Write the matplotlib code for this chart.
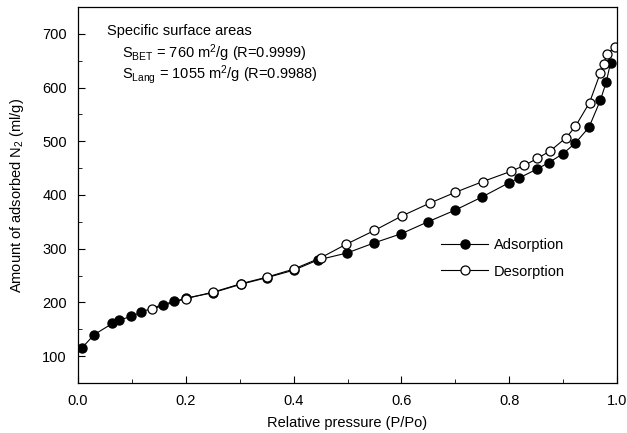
import matplotlib
matplotlib.use("Agg")
import matplotlib.pyplot as plt
from matplotlib.ticker import MultipleLocator

plt.rcParams["font.family"] = ["Liberation Sans", "DejaVu Sans"]
plt.rcParams["mathtext.fontset"] = "custom"
plt.rcParams["mathtext.rm"] = "Liberation Sans"
plt.rcParams["mathtext.it"] = "Liberation Sans"

# Adsorption branch (filled circles)
ads_p = [0.007, 0.030, 0.064, 0.076, 0.099, 0.117, 0.157, 0.179, 0.200, 0.250,
         0.303, 0.350, 0.400, 0.445, 0.499, 0.550, 0.600, 0.649, 0.700, 0.749,
         0.800, 0.819, 0.851, 0.873, 0.900, 0.923, 0.948, 0.969, 0.980, 0.988]
ads_v = [115, 140, 161, 167, 174, 182, 196, 202, 208, 218,
         234, 246, 260, 279, 292, 311, 328, 350, 372, 396,
         423, 432, 448, 460, 477, 497, 526, 576, 610, 646]

# Desorption branch (open circles)
des_p = [0.996, 0.982, 0.975, 0.969, 0.949, 0.923, 0.906, 0.876, 0.852, 0.828,
         0.803, 0.751, 0.700, 0.653, 0.601, 0.550, 0.497, 0.450, 0.400, 0.350,
         0.303, 0.250, 0.200, 0.138]
des_v = [675, 663, 644, 627, 572, 528, 507, 482, 468, 455,
         444, 425, 405, 385, 361, 334, 308, 283, 262, 247,
         235, 219, 207, 188]

fig = plt.figure(figsize=(6.27, 4.33), dpi=100)
ax = fig.add_axes([78 / 627, 50 / 433, 539 / 627, 376 / 433])

ax.plot(ads_p, ads_v, "-o", color="black", lw=0.8, ms=6.5,
        mfc="black", mec="black", label="Adsorption")
ax.plot(des_p, des_v, "-o", color="black", lw=0.8, ms=6.5,
        mfc="white", mec="black", mew=0.9, label="Desorption")

ax.set_xlim(0, 1.0)
ax.set_ylim(50, 750)
ax.xaxis.set_major_locator(MultipleLocator(0.2))
ax.xaxis.set_minor_locator(MultipleLocator(0.1))
ax.yaxis.set_major_locator(MultipleLocator(100))
ax.yaxis.set_minor_locator(MultipleLocator(50))
ax.set_xticks([0.0, 0.2, 0.4, 0.6, 0.8, 1.0])
ax.set_yticks([100, 200, 300, 400, 500, 600, 700])
ax.tick_params(which="both", direction="in", top=False, right=False,
               labelsize=10.5, color="black")
ax.tick_params(axis="y", which="major", length=5, pad=8)
ax.tick_params(axis="x", which="major", length=5, pad=8)
ax.tick_params(which="minor", length=3)
for s in ax.spines.values():
    s.set_linewidth(0.9)

ax.set_xlabel("Relative pressure (P/Po)", fontsize=10.5, labelpad=6)
ax.set_ylabel("Amount of adsorbed N$_2$ (ml/g)", fontsize=10.5, labelpad=12)

ax.text(0.053, 0.955, "Specific surface areas", transform=ax.transAxes,
        fontsize=10.5, va="top")
ax.text(0.082, 0.905, "S$_{\\mathrm{BET}}$ = 760 m$^2$/g (R=0.9999)",
        transform=ax.transAxes, fontsize=10.5, va="top")
ax.text(0.082, 0.852, "S$_{\\mathrm{Lang}}$ = 1055 m$^2$/g (R=0.9988)",
        transform=ax.transAxes, fontsize=10.5, va="top")

ax.legend(loc="upper left", bbox_to_anchor=(0.65, 0.42), frameon=False,
          fontsize=10.5, handlelength=3.2, handletextpad=0.4,
          labelspacing=0.85)

fig.savefig("out.png", dpi=100)
